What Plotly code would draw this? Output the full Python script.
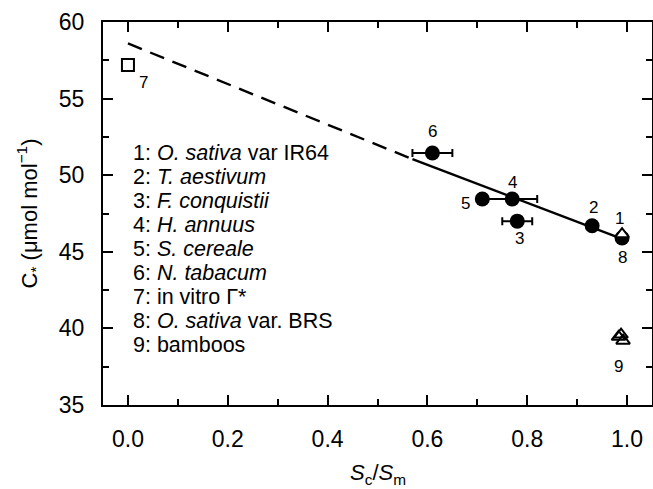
import plotly.graph_objects as go

# ---- data ----
fit_dash_x = [0.0, 0.57]
fit_dash_y = [58.6, 51.05]
fit_solid_x = [0.57, 0.99]
fit_solid_y = [51.05, 45.85]

circ_labels = ["6", "5", "4", "3", "2", "8"]
circ_x = [0.61, 0.71, 0.77, 0.78, 0.93, 0.99]
circ_y = [51.45, 48.45, 48.45, 47.0, 46.7, 45.9]
circ_xerr = [0.04, 0.0, 0.05, 0.03, 0.0, 0.0]

sq_x = [0.0]
sq_y = [57.2]

tri1_x = [0.99]
tri1_y = [46.15]

bamboo_x = [0.983, 0.988, 0.992]
bamboo_y = [39.45, 39.6, 39.2]

legend_lines = [
    "1: <i>O. sativa</i> var IR64",
    "2: <i>T. aestivum</i>",
    "3: <i>F. conquistii</i>",
    "4: <i>H. annuus</i>",
    "5: <i>S. cereale</i>",
    "6: <i>N. tabacum</i>",
    "7: in vitro Γ*",
    "8: <i>O. sativa</i> var. BRS",
    "9: bamboos",
]

x_ticks = [0.0, 0.2, 0.4, 0.6, 0.8, 1.0]
x_ticklabels = ["0.0", "0.2", "0.4", "0.6", "0.8", "1.0"]
y_ticks = [35, 40, 45, 50, 55, 60]

FONT = "Liberation Sans, Arial, sans-serif"

fig = go.Figure()
fig.add_trace(go.Scatter(x=fit_dash_x, y=fit_dash_y, mode="lines",
                         line=dict(color="black", width=2.4, dash="15px,9px"),
                         hoverinfo="skip"))
fig.add_trace(go.Scatter(x=fit_solid_x, y=fit_solid_y, mode="lines",
                         line=dict(color="black", width=2.4), hoverinfo="skip"))
fig.add_trace(go.Scatter(x=circ_x, y=circ_y, mode="markers",
                         marker=dict(symbol="circle", size=15, color="black"),
                         error_x=dict(type="data", array=circ_xerr, color="black",
                                      thickness=2, width=4)))
fig.add_trace(go.Scatter(x=sq_x, y=sq_y, mode="markers",
                         marker=dict(symbol="square-open", size=12, color="black",
                                     line=dict(width=2))))
fig.add_trace(go.Scatter(x=tri1_x, y=tri1_y, mode="markers",
                         marker=dict(symbol="triangle-up", size=12, color="white",
                                     line=dict(width=2, color="black"))))
fig.add_trace(go.Scatter(x=bamboo_x, y=bamboo_y, mode="markers",
                         marker=dict(symbol="triangle-up-open", size=12, color="black",
                                     line=dict(width=2))))

annots = []
# point labels
lab_font = dict(family=FONT, size=17, color="black")
point_labels = [
    ("7", sq_x[0], sq_y[0], 16, -18),
    ("6", circ_x[0], circ_y[0], 0, 21),
    ("5", circ_x[1], circ_y[1], -17, -5),
    ("4", circ_x[2], circ_y[2], 0, 16),
    ("3", circ_x[3], circ_y[3], 2, -17),
    ("2", circ_x[4], circ_y[4], 1, 18),
    ("1", tri1_x[0], tri1_y[0], -3, 16),
    ("8", circ_x[5], circ_y[5], 0, -19),
    ("9", bamboo_x[1], bamboo_y[1], -3, -32),
]
for t, x, y, dx, dy in point_labels:
    annots.append(dict(text=t, x=x, y=y, xref="x", yref="y", showarrow=False,
                       xshift=dx, yshift=dy, font=lab_font))

# legend text lines
for i, line in enumerate(legend_lines):
    ypx = 153 + 24.0 * i
    yval = 60 - (ypx - 22) / (383 / 25)
    annots.append(dict(text=line, x=0.006, y=yval, xref="x", yref="y",
                       xanchor="left", yanchor="middle", showarrow=False,
                       font=dict(family=FONT, size=21.5, color="black")))

# axis titles
annots.append(dict(text="C<sub>*</sub> (μmol mol<sup>−1</sup>)", x=-0.135, y=0.5,
                   xref="paper", yref="paper", textangle=-90, showarrow=False,
                   xanchor="center", yanchor="middle",
                   font=dict(family=FONT, size=22, color="black")))
annots.append(dict(text="<i>S</i><sub>c</sub>/<i>S</i><sub>m</sub>", x=0.5, y=-0.18,
                   xref="paper", yref="paper", showarrow=False,
                   xanchor="center", yanchor="middle",
                   font=dict(family=FONT, size=22, color="black")))

axis_common = dict(showgrid=False, zeroline=False, showline=True, linecolor="black",
                   linewidth=2, mirror="ticks", ticks="inside", ticklen=10,
                   tickwidth=2, tickcolor="black", automargin=False,
                   tickfont=dict(family=FONT, size=23, color="black"))

fig.update_layout(
    width=653, height=489,
    margin=dict(l=103, r=1, t=22, b=84),
    paper_bgcolor="white", plot_bgcolor="white",
    showlegend=False,
    annotations=annots,
    xaxis=dict(range=[-0.05, 1.05], tickvals=x_ticks, ticktext=x_ticklabels,
               minor=dict(dtick=0.1, tick0=0, ticks="inside", ticklen=6,
                          tickwidth=2, tickcolor="black"),
               ticklabelstandoff=12, **axis_common),
    yaxis=dict(range=[35, 60], tickvals=y_ticks,
               minor=dict(dtick=2.5, tick0=35, ticks="inside", ticklen=6,
                          tickwidth=2, tickcolor="black"),
               ticklabelstandoff=12, **axis_common),
)

fig.write_html("out.html",
               config={"displayModeBar": False},
               post_script="document.body.style.margin='0';"
                           "document.body.style.overflow='hidden';")
